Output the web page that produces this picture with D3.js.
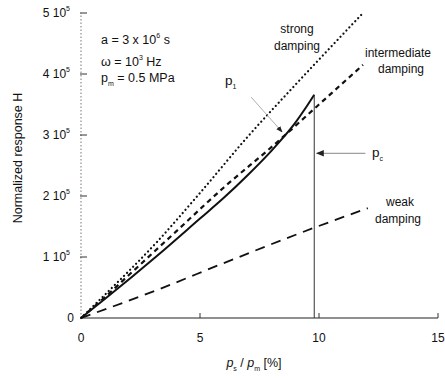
<!DOCTYPE html>
<html><head><meta charset="utf-8">
<script src="https://cdn.jsdelivr.net/npm/d3@7"></script>
<style>body{margin:0;background:#fff}svg text{font-family:"Liberation Sans",Arial,sans-serif;fill:#111}</style>
</head><body><svg id="c" width="445" height="378"></svg>
<script>
// data (x: p_s/p_m in %, y: normalized response H)
const strongX = [0, 1, 3.2, 5, 7, 9, 11.85];
const strongY = [0, 38000, 125000, 205000, 297000, 382000, 500000];
const interX = [0, 1, 2, 4, 6, 8, 10, 11.85];
const interY = [0, 34000, 70000, 142000, 214000, 280000, 350000, 415000];
const solidX = [0, 1, 3.2, 5, 6, 7, 8, 8.5, 9, 9.5, 9.8];
const solidY = [0, 31000, 102000, 163000, 197000, 234000, 274000, 296000, 320000, 348000, 366000];
const critX = 9.8;
const weakX = [0, 3.2, 6, 9.8, 12.05];
const weakY = [0, 46000, 90000, 148000, 180000];
const xTicks = [0, 5, 10, 15];
const yTicks = [0, 100000, 200000, 300000, 400000, 500000];

const svg = d3.select("#c");
const x = d3.scaleLinear().domain([0, 15]).range([81, 438]);
const y = d3.scaleLinear().domain([0, 500000]).range([318, 13]);

// y axis (faint dotted)
svg.append("line").attr("x1", x(0)).attr("x2", x(0)).attr("y1", y(0)).attr("y2", y(500000))
  .attr("stroke", "#777").attr("stroke-width", 1).attr("stroke-dasharray", "1.5,2");
yTicks.forEach(v => {
  if (v > 0) svg.append("line").attr("x1", x(0) - 1).attr("x2", x(0) + 6).attr("y1", y(v)).attr("y2", y(v))
    .attr("stroke", "#333").attr("stroke-width", 1);
  const t = svg.append("text").attr("x", 70).attr("y", y(v) + 4).attr("text-anchor", "end").attr("font-size", 12);
  if (v === 0) { t.attr("x", 74).text("0"); }
  else {
    t.append("tspan").text((v / 100000) + " 10");
    t.append("tspan").attr("font-size", 7).attr("dy", -6).text("5");
  }
});
// x axis
svg.append("line").attr("x1", x(0)).attr("x2", x(15)).attr("y1", y(0)).attr("y2", y(0))
  .attr("stroke", "#222").attr("stroke-width", 1.2);
xTicks.forEach(v => {
  if (v > 0) svg.append("line").attr("x1", x(v)).attr("x2", x(v)).attr("y1", y(0)).attr("y2", y(0) - 5)
    .attr("stroke", "#333").attr("stroke-width", 1);
  svg.append("text").attr("x", x(v)).attr("y", 342).attr("text-anchor", "middle").attr("font-size", 12).text(v);
});

// axis titles
svg.append("text").attr("transform", "translate(22,158) rotate(-90)").attr("text-anchor", "middle")
  .attr("font-size", 12.5).text("Normalized response  H");
const xl = svg.append("text").attr("x", 254).attr("y", 367).attr("text-anchor", "middle").attr("font-size", 12.5);
xl.append("tspan").attr("font-style", "italic").text("p");
xl.append("tspan").attr("font-size", 7).attr("dy", 4).text("s");
xl.append("tspan").attr("dy", -4).text(" / ");
xl.append("tspan").attr("font-style", "italic").text("p");
xl.append("tspan").attr("font-size", 7).attr("dy", 4).text("m");
xl.append("tspan").attr("dy", -4).text(" [%]");

const line = d3.line().x(d => x(d[0])).y(d => y(d[1])).curve(d3.curveMonotoneX);
const zip = (a, b) => a.map((v, i) => [v, b[i]]);

svg.append("path").attr("d", line(zip(strongX, strongY))).attr("fill", "none").attr("stroke", "#111")
  .attr("stroke-width", 2.2).attr("stroke-linecap", "round").attr("stroke-dasharray", "0.1,4.2");
svg.append("path").attr("d", line(zip(interX, interY))).attr("fill", "none").attr("stroke", "#111")
  .attr("stroke-width", 2.2).attr("stroke-dasharray", "5,4");
svg.append("path").attr("d", line(zip(weakX, weakY))).attr("fill", "none").attr("stroke", "#111")
  .attr("stroke-width", 1.8).attr("stroke-dasharray", "10,7");
svg.append("path").attr("d", line(zip(solidX, solidY))).attr("fill", "none").attr("stroke", "#111")
  .attr("stroke-width", 2);
svg.append("line").attr("x1", x(critX)).attr("x2", x(critX)).attr("y1", y(solidY[solidY.length - 1])).attr("y2", y(0))
  .attr("stroke", "#333").attr("stroke-width", 1);

// annotations
const defs = svg.append("defs");
defs.append("marker").attr("id", "ah").attr("viewBox", "0 0 10 10").attr("refX", 9).attr("refY", 5)
  .attr("markerWidth", 8).attr("markerHeight", 8).attr("orient", "auto")
  .append("path").attr("d", "M0,1 L10,5 L0,9 z").attr("fill", "#222");
svg.append("line").attr("x1", x(7.15)).attr("y1", y(362000)).attr("x2", x(8.45)).attr("y2", y(305000))
  .attr("stroke", "#999").attr("stroke-width", 0.8).attr("marker-end", "url(#ah)");
svg.append("line").attr("x1", x(11.95)).attr("y1", y(270000)).attr("x2", x(9.9)).attr("y2", y(270000))
  .attr("stroke", "#888").attr("stroke-width", 1).attr("marker-end", "url(#ah)");

function txt(xx, yy, s, anchor) {
  return svg.append("text").attr("x", xx).attr("y", yy).attr("text-anchor", anchor || "middle").attr("font-size", 12).text(s);
}
txt(297, 33, "strong"); txt(297, 50, "damping");
txt(398, 57, "intermediate"); txt(401, 73, "damping");
txt(400, 206, "weak"); txt(398, 223, "damping");
const p1 = svg.append("text").attr("x", 225).attr("y", 85).attr("font-size", 13.5);
p1.append("tspan").text("p"); p1.append("tspan").attr("font-size", 7).attr("dy", 4).text("1");
const pc = svg.append("text").attr("x", 372).attr("y", 157).attr("font-size", 13.5);
pc.append("tspan").text("p"); pc.append("tspan").attr("font-size", 7).attr("dy", 4).text("c");

const t1 = svg.append("text").attr("x", 101).attr("y", 44).attr("font-size", 12.5);
t1.append("tspan").text("a = 3 x 10"); t1.append("tspan").attr("font-size", 7).attr("dy", -6).text("6");
t1.append("tspan").attr("dy", 6).text(" s");
const t2 = svg.append("text").attr("x", 101).attr("y", 66).attr("font-size", 12.5);
t2.append("tspan").text("ω = 10"); t2.append("tspan").attr("font-size", 7).attr("dy", -6).text("3");
t2.append("tspan").attr("dy", 6).text(" Hz");
const t3 = svg.append("text").attr("x", 101).attr("y", 82).attr("font-size", 12.5);
t3.append("tspan").text("p"); t3.append("tspan").attr("font-size", 7).attr("dy", 4).text("m");
t3.append("tspan").attr("dy", -4).text(" = 0.5 MPa");
</script></body></html>
